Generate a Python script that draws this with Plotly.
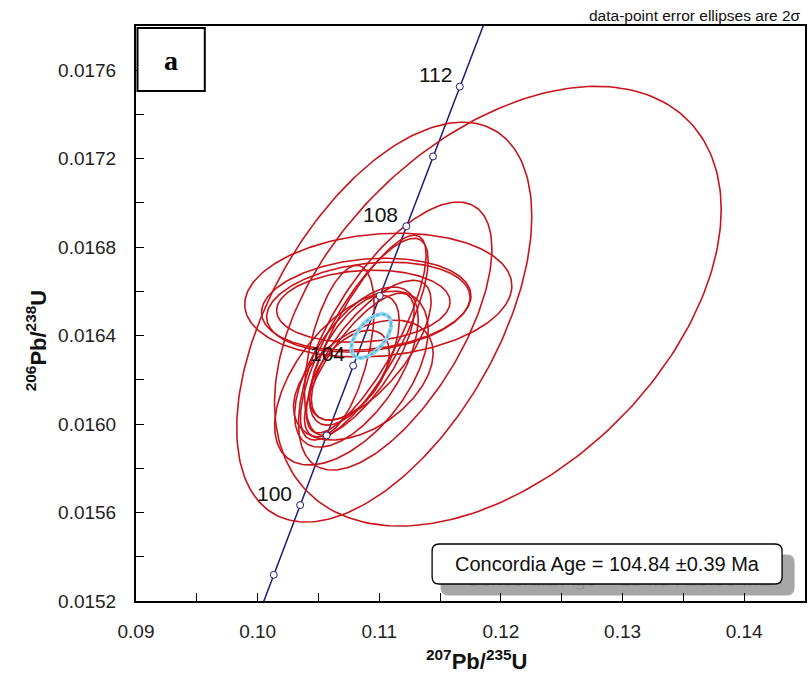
import numpy as np
import plotly.graph_objects as go

# Data-point ellipses: 207Pb/235U, 2s err, 206Pb/238U, 2s err, error correlation
pb207_u235 = [0.11975, 0.11041, 0.11131, 0.10992, 0.10893, 0.10910, 0.10869, 0.10893,
              0.10877, 0.10771, 0.10836, 0.10795, 0.10754, 0.10672, 0.10934, 0.10869, 0.10812]
err_207 = [0.01836, 0.01213, 0.00795, 0.01098, 0.00861, 0.00836, 0.00713, 0.00492,
           0.00525, 0.00631, 0.00451, 0.00369, 0.00328, 0.00287, 0.00492, 0.00574, 0.00508]
pb206_u238 = [0.016533, 0.016461, 0.016398, 0.016583, 0.016542, 0.016529, 0.016533, 0.016407,
              0.016384, 0.016208, 0.016267, 0.016289, 0.016221, 0.016334, 0.016334, 0.016199, 0.016258]
err_206 = [0.000994, 0.000904, 0.000606, 0.000280, 0.000208, 0.000203, 0.000163, 0.000447,
           0.000456, 0.000393, 0.000325, 0.000294, 0.000203, 0.000384, 0.000316, 0.000271, 0.000362]
rho = [0.44, 0.53, 0.65, 0.15, 0.18, 0.22, 0.12, 0.80, 0.78, 0.55, 0.75, 0.60, 0.50, 0.50, 0.70,
       0.45, 0.60]

# Concordia age ellipse
conc_x, conc_ex = 0.10934, 0.00164
conc_y, conc_ey = 0.016398, 0.0000994
conc_rho = 0.55
conc_age_text = "Concordia Age = 104.84 \u00b10.39 Ma"

# Concordia curve ages (Ma)
tick_ages = [98, 100, 102, 104, 106, 108, 110, 112]
label_ages = [100, 104, 108, 112]

L238 = 1.55125e-10
L235 = 9.8485e-10

FONT = "Liberation Sans, Arial"

X_RANGE = [0.09, 0.145]
Y_RANGE = [0.0152, 0.0178]


def ellipse(cx, ex, cy, ey, r, n=240):
    t = np.linspace(0, 2 * np.pi, n)
    x = cx + ex * np.cos(t)
    y = cy + ey * (r * np.cos(t) + np.sqrt(1 - r * r) * np.sin(t))
    return x, y


def concordia(age_ma):
    a = np.asarray(age_ma, dtype=float) * 1e6
    return np.exp(L235 * a) - 1, np.exp(L238 * a) - 1


# helpers in paper coordinates (plot area 671 x 575 px)
PW, PH = 671.0, 575.0


def px(x):
    return (x - 136) / PW


def py(y):
    return (601 - y) / PH


fig = go.Figure()

# concordia line
ages = np.linspace(95, 116, 300)
cx_line, cy_line = concordia(ages)
fig.add_trace(go.Scatter(x=cx_line, y=cy_line, mode="lines",
                         line=dict(color="#1c1c78", width=1.5), hoverinfo="skip"))

# data-point ellipses
for cx, ex, cy, ey, r in zip(pb207_u235, err_207, pb206_u238, err_206, rho):
    ex_, ey_ = ellipse(cx, ex, cy, ey, r)
    fig.add_trace(go.Scatter(x=ex_, y=ey_, mode="lines",
                             line=dict(color="#c8141a", width=1.6), hoverinfo="skip"))

# concordia age ellipse
ax_, ay_ = ellipse(conc_x, conc_ex, conc_y, conc_ey, conc_rho)
fig.add_trace(go.Scatter(x=ax_, y=ay_, mode="lines",
                         line=dict(color="#8ed6ee", width=4), hoverinfo="skip"))
fig.add_trace(go.Scatter(x=ax_, y=ay_, mode="lines",
                         line=dict(color="#3aa6d0", width=1.2, dash="dot"), hoverinfo="skip"))

# age markers on concordia
mx, my = concordia(tick_ages)
fig.add_trace(go.Scatter(x=mx, y=my, mode="markers",
                         marker=dict(size=7, color="white", line=dict(color="#1c1c78", width=1)),
                         hoverinfo="skip"))

# faint echo of the age text inside the drop shadow (sits beneath the white box)
gx = X_RANGE[0] + px(619) * (X_RANGE[1] - X_RANGE[0])
gy = Y_RANGE[0] + py(581) * (Y_RANGE[1] - Y_RANGE[0])
fig.add_trace(go.Scatter(x=[gx], y=[gy], mode="text", text=[conc_age_text],
                         textfont=dict(family=FONT, size=20, color="#979797"),
                         textposition="middle center", hoverinfo="skip", cliponaxis=False))

annotations = []
lx, ly = concordia(label_ages)
for a, x, y in zip(label_ages, lx, ly):
    annotations.append(dict(x=x, y=y, xref="x", yref="y", text=str(a), showarrow=False,
                            xanchor="right", yanchor="middle", xshift=-6, yshift=12,
                            font=dict(family=FONT, size=21, color="#111")))


def rounded_rect(x0, y0, x1, y1, r):
    X = lambda v: f"{px(v):.5f}"
    Y = lambda v: f"{py(v):.5f}"
    pts = [
        f"M {X(x0 + r)} {Y(y0)}",
        f"L {X(x1 - r)} {Y(y0)}",
        f"Q {X(x1)} {Y(y0)} {X(x1)} {Y(y0 + r)}",
        f"L {X(x1)} {Y(y1 - r)}",
        f"Q {X(x1)} {Y(y1)} {X(x1 - r)} {Y(y1)}",
        f"L {X(x0 + r)} {Y(y1)}",
        f"Q {X(x0)} {Y(y1)} {X(x0)} {Y(y1 - r)}",
        f"L {X(x0)} {Y(y0 + r)}",
        f"Q {X(x0)} {Y(y0)} {X(x0 + r)} {Y(y0)}",
        "Z",
    ]
    return " ".join(pts)


shapes = [
    # drop shadow of the age box (below the traces so the echo text shows through)
    dict(type="path", xref="paper", yref="paper", path=rounded_rect(442, 555, 796, 595, 7),
         fillcolor="#a6a6a6", line=dict(color="#a6a6a6", width=1), layer="below"),
    # age box
    dict(type="path", xref="paper", yref="paper", path=rounded_rect(433, 544, 784, 584, 7),
         fillcolor="white", line=dict(color="black", width=1.3), layer="above"),
    # panel label box
    dict(type="rect", xref="paper", yref="paper", x0=px(137.5), x1=px(205), y0=py(91), y1=py(28),
         fillcolor="white", line=dict(color="black", width=2), layer="above"),
]


def paper_note(x, y, text, size, color="#111", family=FONT, **kw):
    d = dict(x=px(x), y=py(y), xref="paper", yref="paper", text=text, showarrow=False,
             xanchor="center", yanchor="middle", font=dict(family=family, size=size, color=color))
    d.update(kw)
    return d


annotations += [
    paper_note(608.5, 564, conc_age_text, 20),
    paper_note(171, 60, "<b>a</b>", 28, color="black", family="Liberation Serif, Times New Roman"),
    paper_note(805, 15, "data-point error ellipses are 2\u03c3", 15.5, xanchor="right"),
    paper_note(478, 660, "<b><sup>207</sup>Pb/<sup>235</sup>U</b>", 22),
    paper_note(36, 340, "<b><sup>206</sup>Pb/<sup>238</sup>U</b>", 22, textangle=-90),
]

fig.update_layout(
    width=809, height=679,
    margin=dict(l=136, r=2, t=26, b=78),
    paper_bgcolor="white", plot_bgcolor="white",
    showlegend=False,
    shapes=shapes, annotations=annotations,
    font=dict(family=FONT, size=19, color="#222"),
)
fig.update_xaxes(range=X_RANGE, dtick=0.01, tick0=0.09, tickformat=".2f",
                 ticks="inside", ticklen=8, tickwidth=1, tickcolor="black",
                 minor=dict(dtick=0.005, ticks="inside", ticklen=8, tickcolor="black"),
                 showline=True, linecolor="black", linewidth=2, mirror=True,
                 showgrid=False, zeroline=False, ticklabelstandoff=12)
fig.update_yaxes(range=Y_RANGE, dtick=0.0004, tick0=0.0152, tickformat=".4f",
                 ticks="inside", ticklen=8, tickwidth=1, tickcolor="black",
                 minor=dict(dtick=0.0002, ticks="inside", ticklen=8, tickcolor="black"),
                 showline=True, linecolor="black", linewidth=2, mirror=True,
                 showgrid=False, zeroline=False, ticklabelstandoff=14)

fig.write_html("out.html")
